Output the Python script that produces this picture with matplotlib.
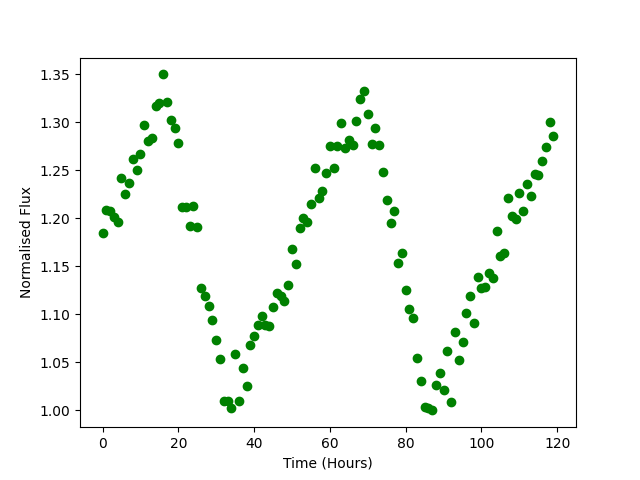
import matplotlib
matplotlib.use("Agg")
import matplotlib.pyplot as plt
import numpy as np

time_hours = list(range(120))
flux = [
    1.185, 1.209, 1.208, 1.201, 1.196, 1.242, 1.225, 1.237, 1.262, 1.250,
    1.267, 1.297, 1.281, 1.284, 1.317, 1.320, 1.350, 1.321, 1.303, 1.294,
    1.279, 1.212, 1.212, 1.192, 1.213, 1.191, 1.128, 1.119, 1.109, 1.094,
    1.073, 1.054, 1.010, 1.010, 1.003, 1.059, 1.010, 1.044, 1.025, 1.068,
    1.077, 1.089, 1.098, 1.089, 1.088, 1.108, 1.122, 1.119, 1.114, 1.131,
    1.168, 1.153, 1.190, 1.200, 1.196, 1.215, 1.253, 1.221, 1.229, 1.247,
    1.275, 1.252, 1.275, 1.299, 1.273, 1.282, 1.276, 1.301, 1.324, 1.333,
    1.309, 1.277, 1.294, 1.276, 1.248, 1.219, 1.195, 1.208, 1.154, 1.164,
    1.125, 1.106, 1.096, 1.055, 1.031, 1.004, 1.002, 1.000, 1.026, 1.039,
    1.021, 1.062, 1.009, 1.082, 1.053, 1.071, 1.101, 1.119, 1.091, 1.139,
    1.128, 1.129, 1.143, 1.138, 1.187, 1.161, 1.164, 1.221, 1.202, 1.199,
    1.226, 1.208, 1.236, 1.223, 1.246, 1.245, 1.260, 1.274, 1.300, 1.286,
]

fig, ax = plt.subplots(figsize=(6.4, 4.8), dpi=100)
ax.scatter(time_hours, flux, color="green")
ax.set_xlabel("Time (Hours)")
ax.set_ylabel("Normalised Flux")
fig.savefig("out.png", dpi=100)
